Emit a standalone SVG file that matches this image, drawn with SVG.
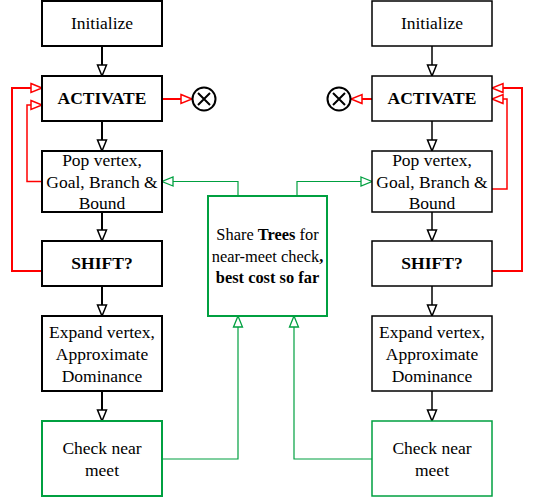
<svg xmlns="http://www.w3.org/2000/svg" width="538" height="501" viewBox="0 0 538 501">
<defs>
<style>
text{font-family:"Liberation Serif","Times New Roman",serif;font-size:17.5px;fill:#000;text-anchor:middle}
.b{font-weight:bold}
.s{font-size:16.4px}
.bx{fill:#fff;stroke:#000}
.L{stroke-width:2}
.R{stroke-width:1.5}
.gb{fill:#fff;stroke:#00a040}
.cn{fill:none}
</style>
<marker id="ak" viewBox="-2 -2 15 13" refX="11" refY="4.5" markerWidth="15" markerHeight="13" orient="auto" markerUnits="userSpaceOnUse"><path d="M0,0 L11,4.5 L0,9 z" fill="#fff" stroke="#000" stroke-width="1.5"/></marker>
<marker id="ar" viewBox="-2 -2 15 13" refX="11" refY="4.5" markerWidth="15" markerHeight="13" orient="auto" markerUnits="userSpaceOnUse"><path d="M0,0 L11,4.5 L0,9 z" fill="#fff" stroke="#ff0000" stroke-width="1.5"/></marker>
<marker id="ag" viewBox="-2 -2 15 13" refX="11" refY="4.5" markerWidth="15" markerHeight="13" orient="auto" markerUnits="userSpaceOnUse"><path d="M0,0 L11,4.5 L0,9 z" fill="#fff" stroke="#00a040" stroke-width="1.3"/></marker>
</defs>
<rect width="538" height="501" fill="#fff"/>

<g id="connectors" class="cn">
<g stroke="#000" stroke-width="2" marker-end="url(#ak)">
<line x1="102" y1="46" x2="102" y2="76"/>
<line x1="102" y1="121" x2="102" y2="151"/>
<line x1="102" y1="212" x2="102" y2="241"/>
<line x1="102" y1="286" x2="102" y2="316"/>
<line x1="102" y1="391" x2="102" y2="421"/>
</g>
<g stroke="#000" stroke-width="1.5" marker-end="url(#ak)">
<line x1="432" y1="46" x2="432" y2="76"/>
<line x1="432" y1="121" x2="432" y2="151"/>
<line x1="432" y1="212" x2="432" y2="241"/>
<line x1="432" y1="286" x2="432" y2="316"/>
<line x1="432" y1="391" x2="432" y2="421"/>
</g>
<g stroke="#ff0000" fill="none" marker-end="url(#ar)">
<line x1="162" y1="99" x2="192" y2="99" stroke-width="2"/>
<path d="M42,271 L12,271 L12,88 L42,88" stroke-width="2"/>
<path d="M42,181.5 L27,181.5 L27,105 L42,105" stroke-width="1.5"/>
<line x1="372" y1="99" x2="351" y2="99" stroke-width="2"/>
<path d="M492,271 L522,271 L522,88 L492,88" stroke-width="2"/>
<path d="M492,189 L507,189 L507,99 L492,99" stroke-width="1.5"/>
</g>
<g stroke="#00a040" stroke-width="1.2" fill="none" marker-end="url(#ag)">
<path d="M238,196 L238,181.5 L162,181.5"/>
<path d="M297,196 L297,181.5 L372,181.5"/>
<path d="M162,459 L238,459 L238,316"/>
<path d="M372,459 L294,459 L294,316"/>
</g>
</g>

<g id="init-l"><rect class="bx L" x="42" y="1" width="120" height="45"/><text x="102" y="29">Initialize</text></g>
<g id="activate-l"><rect class="bx L" x="42" y="76" width="120" height="45"/><text class="b" x="102" y="104">ACTIVATE</text></g>
<g id="pop-l"><rect class="bx L" x="42" y="151" width="120" height="61"/><text x="102" y="166">Pop vertex,</text><text x="102" y="187.5">Goal, Branch &amp;</text><text x="102" y="209">Bound</text></g>
<g id="shift-l"><rect class="bx L" x="42" y="241" width="120" height="45"/><text class="b" x="102" y="269">SHIFT?</text></g>
<g id="expand-l"><rect class="bx L" x="42" y="316" width="120" height="75"/><text x="102" y="338">Expand vertex,</text><text x="102" y="359.5">Approximate</text><text x="102" y="381.5">Dominance</text></g>
<g id="check-l"><rect class="gb L" x="42" y="421" width="120" height="75"/><text x="102" y="454">Check near</text><text x="102" y="476">meet</text></g>
<g id="stop-l"><circle cx="204" cy="99" r="11.5" fill="#fff" stroke="#000" stroke-width="2"/><path d="M198,93 L210,105 M210,93 L198,105" stroke="#000" stroke-width="2"/></g>

<g id="init-r"><rect class="bx R" x="372" y="1" width="120" height="45"/><text x="432" y="29">Initialize</text></g>
<g id="activate-r"><rect class="bx R" x="372" y="76" width="120" height="45"/><text class="b" x="432" y="104">ACTIVATE</text></g>
<g id="pop-r"><rect class="bx R" x="372" y="151" width="120" height="61"/><text x="432" y="166">Pop vertex,</text><text x="432" y="187.5">Goal, Branch &amp;</text><text x="432" y="209">Bound</text></g>
<g id="shift-r"><rect class="bx R" x="372" y="241" width="120" height="45"/><text class="b" x="432" y="269">SHIFT?</text></g>
<g id="expand-r"><rect class="bx R" x="372" y="316" width="120" height="75"/><text x="432" y="338">Expand vertex,</text><text x="432" y="359.5">Approximate</text><text x="432" y="381.5">Dominance</text></g>
<g id="check-r"><rect class="gb R" x="372" y="421" width="120" height="75"/><text x="432" y="454">Check near</text><text x="432" y="476">meet</text></g>
<g id="stop-r"><circle cx="339" cy="99" r="11.5" fill="#fff" stroke="#000" stroke-width="2"/><path d="M333,93 L345,105 M345,93 L333,105" stroke="#000" stroke-width="2"/></g>

<g id="share"><rect class="gb L" x="208" y="196" width="119" height="120"/>
<text class="s" x="267.5" y="240">Share <tspan class="b">Trees</tspan> for</text>
<text class="s" x="267.5" y="261.5">near-meet check<tspan class="b">,</tspan></text>
<text class="s b" x="267.5" y="283">best cost so far</text></g>
</svg>
